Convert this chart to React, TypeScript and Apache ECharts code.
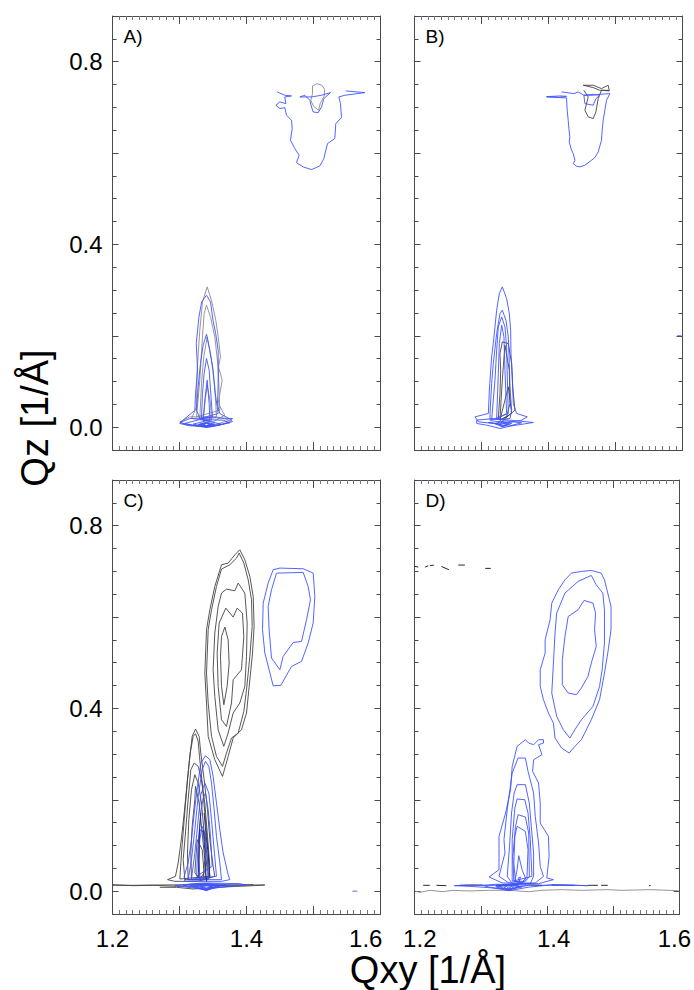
import React, { useEffect, useRef } from "react";
import * as echarts from "echarts";

type Contour = number[][];

const xTickLabelsLeft = [1.2, 1.4, 1.578];
const xTickLabelsRight = [1.208, 1.41, 1.592];
const yTickLabels = [0, 0.4, 0.8];
const yMajorTicks = [0, 0.2, 0.4, 0.6, 0.8];

const panelABlue: Contour[] = [
  [[1.4458,.7338],[1.4572,.7265],[1.4672,.7250],[1.4572,.7228],[1.4587,.7082],[1.4498,.7119],[1.4438,.7046],[1.4498,.6973],[1.4572,.6995],[1.4597,.6827],[1.4672,.6718],[1.4682,.6535],[1.4657,.6280],[1.4721,.6098],[1.4786,.5952],[1.4746,.5791],[1.4846,.5697],[1.4970,.5638],[1.5095,.5718],[1.5154,.5879],[1.5209,.6207],[1.5318,.6317],[1.5333,.6645],[1.5418,.6776],[1.5403,.7082],[1.5378,.7228],[1.5468,.7265],[1.5766,.7323],[1.5483,.7360]],
  [[1.4796,.7228],[1.4871,.7265],[1.4945,.7155],[1.4970,.7009],[1.4995,.6900],[1.5070,.6885],[1.5120,.7009],[1.5154,.7192],[1.5253,.7323],[1.5120,.7265],[1.4970,.7228],[1.4796,.7228]],
  [[1.323,.037],[1.3239,.073],[1.327,.125],[1.325,.183],[1.329,.241],[1.333,.274],[1.3403,.2888],[1.3463,.274],[1.350,.234],[1.354,.205],[1.3577,.168],[1.3577,.095],[1.3567,.051],[1.360,.030],[1.375,.018],[1.3791,.012],[1.36,.005],[1.34,.002],[1.315,.003],[1.3005,.008],[1.305,.015],[1.323,.037]],
  [[1.3403,.2035],[1.3453,.1685],[1.3502,.1247],[1.3527,.0809],[1.3577,.0299],[1.3303,.0189],[1.3254,.0371],[1.3278,.0882],[1.3313,.1393],[1.3353,.1794],[1.3403,.2035]],
  [[1.3403,.1502],[1.3443,.1247],[1.3463,.0809],[1.3492,.0226],[1.3328,.0189],[1.3343,.0736],[1.3368,.1174],[1.3403,.1502]],
  [[1.3413,.1028],[1.3443,.0517],[1.3453,.0153],[1.3353,.0153],[1.3378,.0590],[1.3413,.1028]],
  [[1.3005,.0098],[1.3154,.0189],[1.3552,.0204],[1.3791,.0189],[1.3751,.0116],[1.3602,.0044],[1.3403,-.0007],[1.3204,.0036],[1.3005,.0098]],
  [[1.3079,.0080],[1.3303,.0167],[1.3652,.0153],[1.3751,.0095],[1.3453,.0007],[1.3204,.0044],[1.3079,.0080]],
  [[1.3204,.0066],[1.3403,.0138],[1.3627,.0066],[1.3403,.0007],[1.3204,.0066]],
  [[1.3303,.0066],[1.3403,.0109],[1.3527,.0066],[1.3403,.0022],[1.3303,.0066]],
  [[1.3353,.0058],[1.3403,.0087],[1.3453,.0058],[1.3403,.0029],[1.3353,.0058]],
  [[1.3278,.0058],[1.3403,.0095],[1.3502,.0058],[1.3403,.0015],[1.3278,.0058]],
  [[1.3328,.0062],[1.3403,.0080],[1.3477,.0062],[1.3403,.0036],[1.3328,.0062]],
];
const panelAGrey: Contour[] = [
  [[1.4985,.7469],[1.5050,.7520],[1.5125,.7484],[1.5165,.7396],[1.5160,.7250],[1.5100,.7082],[1.5075,.6936],[1.5000,.7025],[1.4960,.7155],[1.4985,.7301],[1.4985,.7469]],
  [[1.3413,.3071],[1.3477,.2779],[1.3542,.2341],[1.3577,.1976],[1.3612,.1539],[1.3582,.1320],[1.3637,.1028],[1.3577,.0517],[1.3676,.0262],[1.3502,.0116],[1.3179,.0189],[1.3254,.0444],[1.3263,.1247],[1.3303,.2122],[1.3343,.2742],[1.3413,.3071]],
  [[1.3403,.2669],[1.3463,.2414],[1.3527,.1976],[1.3577,.1320],[1.3602,.0371],[1.3254,.0226],[1.3303,.1028],[1.3343,.1976],[1.3368,.2487],[1.3403,.2669]],
  [[1.3413,.1976],[1.3477,.1466],[1.3527,.0882],[1.3552,.0226],[1.3303,.0189],[1.3328,.0955],[1.3363,.1539],[1.3413,.1976]],
  [[1.3413,.0919],[1.3463,.0517],[1.3477,.0153],[1.3353,.0153],[1.3378,.0517],[1.3413,.0919]],
  [[1.3005,.0116],[1.3154,.0226],[1.3552,.0226],[1.3751,.0153],[1.3403,.0000],[1.3079,.0058],[1.3005,.0116]],
];

const panelBBlue: Contour[] = [
  [[1.3971,.7228],[1.4269,.7207],[1.4279,.6937],[1.4294,.6718],[1.4304,.6536],[1.4319,.6353],[1.4309,.6244],[1.4344,.6062],[1.4369,.5988],[1.4394,.5843],[1.4369,.5770],[1.4419,.5711],[1.4468,.5697],[1.4543,.5733],[1.4642,.5843],[1.4692,.5901],[1.4742,.6025],[1.4791,.6280],[1.4801,.6499],[1.4816,.6718],[1.4841,.6937],[1.4866,.7156],[1.4916,.7301],[1.4767,.7287],[1.4667,.7265],[1.4528,.7265],[1.4443,.7338],[1.4379,.7301],[1.4195,.7338]],
  [[1.3971,.7235],[1.4170,.7250],[1.4269,.7243],[1.4170,.7221],[1.3971,.7235]],
  [[1.4528,.7265],[1.4543,.7083],[1.4667,.7046],[1.4707,.7192],[1.4767,.7265],[1.4667,.7287],[1.4528,.7265]],
  [[1.3311,.3071],[1.3375,.2815],[1.3415,.2487],[1.3435,.2122],[1.3440,.1612],[1.3460,.1101],[1.3475,.0517],[1.3524,.0299],[1.3683,.0226],[1.3599,.0153],[1.3276,.0066],[1.2953,.0116],[1.2903,.0226],[1.3102,.0299],[1.3117,.0809],[1.3151,.1539],[1.3176,.1830],[1.3226,.2560],[1.3266,.2924],[1.3311,.3071]],
  [[1.3311,.2560],[1.3365,.2341],[1.3400,.1976],[1.3415,.1393],[1.3425,.0882],[1.3450,.0371],[1.3425,.0189],[1.3127,.0153],[1.3127,.0299],[1.3151,.0955],[1.3176,.1393],[1.3226,.2049],[1.3276,.2487],[1.3311,.2560]],
  [[1.3301,.2414],[1.3350,.2195],[1.3375,.1757],[1.3385,.1101],[1.3400,.0299],[1.3151,.0153],[1.3201,.1028],[1.3226,.1685],[1.3251,.2195],[1.3301,.2414]],
  [[1.3301,.2232],[1.3335,.1976],[1.3350,.1247],[1.3375,.0299],[1.3226,.0189],[1.3251,.1174],[1.3266,.1830],[1.3301,.2232]],
  [[1.2928,.0153],[1.3176,.0189],[1.3773,.0102],[1.3425,.0022],[1.3276,-.0029],[1.3077,.0044],[1.2928,.0080],[1.2928,.0153]],
  [[1.3102,.0102],[1.3350,.0138],[1.3599,.0095],[1.3400,.0022],[1.3102,.0102]],
  [[1.3201,.0080],[1.3311,.0124],[1.3450,.0080],[1.3311,.0007],[1.3201,.0080]],
  [[1.3276,.0066],[1.3311,.0102],[1.3375,.0066],[1.3311,.0029],[1.3276,.0066]],
  [[1.3226,.0073],[1.3311,.0109],[1.3415,.0073],[1.3311,.0015],[1.3226,.0073]],
];
const panelBGrey: Contour[] = [
  [[1.4518,.7484],[1.4667,.7484],[1.4791,.7411],[1.4891,.7484],[1.4906,.7374],[1.4767,.7374],[1.4667,.7433],[1.4518,.7484]],
  [[1.4528,.7374],[1.4593,.7228],[1.4543,.6937],[1.4593,.6791],[1.4667,.6754],[1.4707,.6900],[1.4742,.7192],[1.4791,.7374],[1.4916,.7360]],
  [[1.3311,.1867],[1.3400,.1830],[1.3450,.1393],[1.3465,.0882],[1.3499,.0371],[1.3325,.0153],[1.3251,.0189],[1.3276,.0736],[1.3286,.1247],[1.3276,.1612],[1.3311,.1867]],
  [[1.3350,.1794],[1.3415,.1247],[1.3425,.0517],[1.3375,.0226],[1.3276,.0153],[1.3301,.0809],[1.3325,.1320],[1.3350,.1794]],
  [[1.3400,.0882],[1.3450,.0299],[1.3276,.0153],[1.3350,.0591],[1.3400,.0882]],
];
const panelBMark: Contour[] = [[[1.5920,.2000],[1.5985,.2000]]];

const panelCBlack: Contour[] = [
  [[1.3900,.7473],[1.3975,.7254],[1.4050,.6889],[1.4100,.6451],[1.4114,.5795],[1.4090,.5211],[1.4040,.4482],[1.4000,.3899],[1.3925,.3534],[1.3801,.3351],[1.3726,.2950],[1.3642,.2512],[1.3527,.2877],[1.3428,.3388],[1.3403,.4117],[1.3378,.4773],[1.3403,.5722],[1.3453,.6159],[1.3527,.6670],[1.3627,.7145],[1.3726,.7181],[1.3826,.7363],[1.3900,.7473]],
  [[1.3890,.7400],[1.3960,.7181],[1.4025,.6816],[1.4075,.6378],[1.4085,.5795],[1.4050,.5138],[1.4000,.4408],[1.3960,.3935],[1.3876,.3461],[1.3776,.3351],[1.3701,.3023],[1.3642,.2731],[1.3552,.2950],[1.3478,.3388],[1.3428,.4117],[1.3403,.4773],[1.3428,.5722],[1.3478,.6159],[1.3552,.6670],[1.3627,.7050],[1.3751,.7145],[1.3851,.7290],[1.3890,.7400]],
  [[1.3701,.6612],[1.3826,.6575],[1.3876,.6743],[1.3975,.6524],[1.4010,.5868],[1.4000,.5138],[1.3975,.4482],[1.3900,.4117],[1.3801,.3899],[1.3726,.3461],[1.3661,.3170],[1.3577,.3534],[1.3527,.4263],[1.3502,.4846],[1.3527,.5649],[1.3577,.6232],[1.3627,.6524],[1.3701,.6612]],
  [[1.3691,.6195],[1.3801,.5999],[1.3861,.6195],[1.3940,.6086],[1.3960,.5576],[1.3925,.4846],[1.3801,.4627],[1.3776,.4117],[1.3701,.3607],[1.3627,.3753],[1.3577,.4482],[1.3562,.5211],[1.3592,.5868],[1.3691,.6195]],
  [[1.3677,.5780],[1.3726,.5503],[1.3741,.4992],[1.3711,.4482],[1.3662,.4081],[1.3627,.4482],[1.3612,.5138],[1.3627,.5576],[1.3677,.5780]],
  [[1.3239,.3549],[1.3293,.3388],[1.3318,.3023],[1.3368,.2440],[1.3418,.1784],[1.3453,.1127],[1.3502,.0544],[1.3527,.0325],[1.3279,.0215],[1.2930,.0215],[1.2821,.0252],[1.2940,.0325],[1.2980,.0617],[1.3030,.1164],[1.3070,.1711],[1.3139,.2732],[1.3189,.3388],[1.3239,.3549]],
  [[1.3239,.3447],[1.3279,.3279],[1.3298,.2951],[1.3338,.2367],[1.3378,.1711],[1.3418,.1054],[1.3453,.0325],[1.3005,.0266],[1.3030,.0835],[1.3070,.1565],[1.3119,.2440],[1.3159,.3023],[1.3204,.3388],[1.3239,.3447]],
  [[1.3219,.2805],[1.3279,.2732],[1.3328,.2440],[1.3378,.1929],[1.3418,.1200],[1.3453,.0544],[1.3428,.0252],[1.3080,.0252],[1.3055,.0689],[1.3089,.1273],[1.3129,.2002],[1.3169,.2659],[1.3219,.2805]],
  [[1.3229,.2549],[1.3279,.2367],[1.3328,.1929],[1.3368,.1273],[1.3403,.0617],[1.3378,.0252],[1.3129,.0252],[1.3119,.0835],[1.3139,.1565],[1.3179,.2221],[1.3229,.2549]],
  [[1.3239,.2294],[1.3293,.1929],[1.3338,.1273],[1.3378,.0689],[1.3353,.0252],[1.3179,.0252],[1.3169,.0835],[1.3189,.1419],[1.3229,.2002],[1.3239,.2294]],
  [[1.3303,.1346],[1.3378,.1273],[1.3418,.0689],[1.3428,.0288],[1.3303,.0288],[1.3289,.0689],[1.3303,.1346]],
  [[1.3264,.1127],[1.3338,.0909],[1.3368,.0400],[1.3303,.0266],[1.3229,.0400],[1.3264,.1127]],
  [[1.2000,.0128],[1.2308,.0128],[1.2706,.0135],[1.3303,.0142],[1.3900,.0135],[1.4274,.0135],[1.4100,.0120],[1.3552,.0084],[1.3204,.0047],[1.2955,.0084],[1.2706,.0084]],
  [[1.2000,.0142],[1.2308,.0120],[1.2600,.0128],[1.2955,.0106],[1.3500,.0120],[1.4100,.0142]],
];
const panelCBlue: Contour[] = [
  [[1.4398,.7035],[1.4498,.7072],[1.4846,.7057],[1.4995,.6962],[1.5020,.6451],[1.4995,.5868],[1.4920,.5430],[1.4821,.5029],[1.4672,.4920],[1.4512,.4504],[1.4398,.4497],[1.4274,.5211],[1.4239,.5722],[1.4249,.6305],[1.4323,.6743],[1.4398,.7035]],
  [[1.4448,.6962],[1.4846,.6977],[1.4920,.6670],[1.4955,.6379],[1.4896,.5941],[1.4821,.5466],[1.4697,.5444],[1.4547,.5138],[1.4498,.4847],[1.4373,.5102],[1.4338,.5722],[1.4323,.6232],[1.4373,.6597],[1.4448,.6962]],
  [[1.3388,.2965],[1.3453,.2878],[1.3502,.2513],[1.3552,.1929],[1.3602,.1346],[1.3652,.0835],[1.3726,.0361],[1.3751,.0252],[1.3627,.0215],[1.3080,.0215],[1.3070,.0325],[1.3129,.0617],[1.3179,.1127],[1.3219,.1711],[1.3269,.2294],[1.3318,.2805],[1.3388,.2965]],
  [[1.3388,.2841],[1.3438,.2732],[1.3478,.2367],[1.3517,.1784],[1.3552,.1200],[1.3602,.0617],[1.3627,.0252],[1.3129,.0252],[1.3179,.0689],[1.3229,.1346],[1.3279,.2075],[1.3338,.2659],[1.3388,.2841]],
  [[1.3378,.2367],[1.3438,.2148],[1.3478,.1565],[1.3517,.0909],[1.3552,.0325],[1.3179,.0266],[1.3229,.0835],[1.3279,.1565],[1.3318,.2112],[1.3378,.2367]],
  [[1.3388,.2148],[1.3428,.1784],[1.3463,.1200],[1.3487,.0544],[1.3254,.0325],[1.3279,.1054],[1.3318,.1711],[1.3353,.2039],[1.3388,.2148]],
  [[1.3338,.1419],[1.3378,.1273],[1.3418,.0689],[1.3428,.0288],[1.3303,.0288],[1.3289,.0689],[1.3303,.1127],[1.3338,.1419]],
  [[1.2930,.0120],[1.3204,.0164],[1.3403,.0179],[1.3900,.0164],[1.4000,.0135],[1.3601,.0084],[1.3403,.0033],[1.3204,.0070],[1.2930,.0120]],
  [[1.3055,.0128],[1.3303,.0172],[1.3602,.0157],[1.3800,.0120],[1.3502,.0070],[1.3403,.0011],[1.3254,.0070],[1.3055,.0128]],
  [[1.3154,.0120],[1.3403,.0157],[1.3652,.0128],[1.3453,.0062],[1.3403,.0018],[1.3279,.0070],[1.3154,.0120]],
  [[1.3254,.0106],[1.3403,.0143],[1.3552,.0106],[1.3403,.0040],[1.3254,.0106]],
  [[1.3328,.0098],[1.3403,.0120],[1.3478,.0098],[1.3403,.0062],[1.3328,.0098]],
  [[1.3204,.0113],[1.3403,.0150],[1.3602,.0113],[1.3403,.0026],[1.3204,.0113]],
  [[1.3303,.0102],[1.3403,.0135],[1.3502,.0102],[1.3403,.0051],[1.3303,.0102]],
  [[1.5582,.0000],[1.5652,.0000]],
];
const panelCCore: Contour[] = [
  [[1.3318,.1711],[1.3293,.1200],[1.3289,.0689],[1.3279,.0288]],
  [[1.3368,.1711],[1.3393,.1273],[1.3428,.0835],[1.3453,.0288]],
  [[1.3353,.1346],[1.3378,.0909],[1.3393,.0400],[1.3403,.0215]],
];

const panelDBlue: Contour[] = [
  [[1.4667,.7021],[1.4816,.6962],[1.4866,.6816],[1.4916,.6524],[1.4965,.6232],[1.4965,.5722],[1.4916,.5211],[1.4866,.4773],[1.4792,.4190],[1.4667,.3752],[1.4518,.3315],[1.4419,.3169],[1.4334,.3023],[1.4220,.3132],[1.4120,.3351],[1.4096,.3680],[1.4021,.3899],[1.3946,.4190],[1.3897,.4482],[1.3897,.4847],[1.3971,.5211],[1.3971,.5503],[1.4046,.5941],[1.4071,.6305],[1.4170,.6597],[1.4270,.6816],[1.4369,.6962],[1.4518,.6998],[1.4667,.7021]],
  [[1.4667,.6911],[1.4742,.6707],[1.4841,.6524],[1.4866,.6159],[1.4866,.5430],[1.4831,.4847],[1.4792,.4482],[1.4692,.4044],[1.4518,.3752],[1.4419,.3534],[1.4344,.3351],[1.4245,.3534],[1.4145,.3826],[1.4071,.4337],[1.4096,.4992],[1.4120,.5649],[1.4145,.6087],[1.4270,.6524],[1.4468,.6780],[1.4667,.6911]],
  [[1.4558,.6364],[1.4692,.6305],[1.4732,.6087],[1.4717,.5722],[1.4742,.5357],[1.4667,.4992],[1.4617,.4701],[1.4518,.4446],[1.4443,.4300],[1.4319,.4337],[1.4230,.4518],[1.4230,.5065],[1.4270,.5576],[1.4319,.6013],[1.4468,.6159],[1.4558,.6364]],
  [[1.3673,.3315],[1.3723,.3242],[1.3797,.3206],[1.3872,.3315],[1.3946,.3315],[1.3946,.3242],[1.3872,.3206],[1.3922,.2987],[1.3797,.2877],[1.3782,.2622],[1.3872,.2367],[1.3897,.1929],[1.3897,.1491],[1.4021,.1200],[1.4031,.0762],[1.3996,.0288],[1.4096,.0252],[1.3872,.0164],[1.3325,.0179],[1.3126,.0310],[1.3275,.0470],[1.3275,.1200],[1.3375,.1710],[1.3449,.2221],[1.3474,.2732],[1.3548,.3169],[1.3673,.3315]],
  [[1.3563,.2914],[1.3673,.2914],[1.3713,.2622],[1.3797,.2148],[1.3822,.1637],[1.3872,.1054],[1.3897,.0543],[1.3946,.0325],[1.3822,.0179],[1.3424,.0179],[1.3275,.0325],[1.3365,.0835],[1.3350,.1127],[1.3399,.1783],[1.3474,.2586],[1.3563,.2914]],
  [[1.3548,.2331],[1.3673,.2331],[1.3732,.1929],[1.3762,.1419],[1.3797,.0835],[1.3797,.0325],[1.3747,.0164],[1.3474,.0164],[1.3399,.0325],[1.3434,.0981],[1.3464,.1710],[1.3504,.2148],[1.3548,.2331]],
  [[1.3548,.2017],[1.3663,.2002],[1.3713,.1710],[1.3747,.1127],[1.3772,.0325],[1.3474,.0215],[1.3474,.1127],[1.3514,.1820],[1.3548,.2017]],
  [[1.3563,.1674],[1.3673,.1623],[1.3723,.1273],[1.3733,.0325],[1.3673,.0215],[1.3499,.0215],[1.3484,.0762],[1.3524,.1419],[1.3563,.1674]],
  [[1.3548,.1419],[1.3673,.1309],[1.3713,.0908],[1.3698,.0325],[1.3623,.0193],[1.3524,.0215],[1.3499,.0616],[1.3514,.1200],[1.3548,.1419]],
  [[1.3573,.0777],[1.3623,.0470],[1.3683,.0252],[1.3623,.0179],[1.3514,.0215],[1.3548,.0470],[1.3573,.0777]],
  [[1.3563,.0288],[1.3598,.0310],[1.3583,.0215],[1.3563,.0288]],
  [[1.3027,.0128],[1.3225,.0150],[1.3573,.0142],[1.3921,.0128],[1.4419,.0128],[1.4618,.0120],[1.4071,.0142],[1.3722,.0087],[1.3424,.0011],[1.3126,.0087],[1.3027,.0128]],
  [[1.2600,.0120],[1.2828,.0135],[1.3126,.0120],[1.3424,.0150],[1.3722,.0128],[1.3424,.0047],[1.2828,.0106],[1.2600,.0120]],
  [[1.3275,.0106],[1.3424,.0142],[1.3573,.0106],[1.3424,.0018],[1.3275,.0106]],
  [[1.3349,.0087],[1.3424,.0120],[1.3498,.0087],[1.3424,.0033],[1.3349,.0087]],
  [[1.3399,.0073],[1.3424,.0091],[1.3454,.0073],[1.3424,.0047],[1.3399,.0073]],
  [[1.3225,.0095],[1.3424,.0128],[1.3623,.0095],[1.3424,.0025],[1.3225,.0095]],
];
const panelDBlack: Contour[] = [
  [[1.2007,.7108],[1.2057,.7094]],
  [[1.2157,.7094],[1.2207,.7123]],
  [[1.2232,.7123],[1.2292,.7138]],
  [[1.2405,.7108],[1.2520,.7035]],
  [[1.2660,.7138],[1.2760,.7138]],
  [[1.3067,.7065],[1.3151,.7065]],
  [[1.2132,.0128],[1.2231,.0128]],
  [[1.2331,.0128],[1.2480,.0120]],
  [[1.2679,.0128],[1.3027,.0135]],
  [[1.3225,.0128],[1.3573,.0135]],
  [[1.3722,.0135],[1.3921,.0128]],
  [[1.4071,.0135],[1.4419,.0128]],
  [[1.4618,.0128],[1.4767,.0128]],
  [[1.4816,.0128],[1.4916,.0128]],
  [[1.5538,.0120],[1.5562,.0120]],
];
const panelDGrey: Contour[] = [
  [[1.2007,.0000],[1.2082,-.0026],[1.2231,.0018],[1.2430,-.0011],[1.2580,.0018],[1.2828,.0004],[1.3126,.0018],[1.3424,.0018],[1.3722,-.0011],[1.3921,.0018],[1.4220,.0033],[1.4518,.0018],[1.4916,.0033],[1.5115,.0018],[1.5562,.0033],[1.5985,.0010]],
];

const xTicks = { min: 1.2, max: 1.6, interval: 0.1, minorSplit: 10 };
const yTicks = { min: -0.05, max: 0.9, interval: 0.05 };

const BLUE = "#3f54ff";
const GREY = "#8a8a8a";
const DARK = "#444444";
const NAVY = "#12208a";
const AXIS = "#4a4a4a";
const FONT = "Liberation Sans, Arial, sans-serif";

const panels = [
  { name: "A)", left: 112.5, top: 16, xLabels: null, yLabels: true, layers: [[panelAGrey, GREY], [panelABlue, BLUE]] },
  { name: "B)", left: 414.5, top: 16, xLabels: null, yLabels: false, layers: [[panelBGrey, DARK], [panelBBlue, BLUE], [panelBMark, BLUE]] },
  { name: "C)", left: 112.5, top: 480, xLabels: xTickLabelsLeft, yLabels: true, layers: [[panelCBlack, DARK], [panelCBlue, BLUE], [panelCCore, NAVY]] },
  { name: "D)", left: 414.5, top: 480, xLabels: xTickLabelsRight, yLabels: false, layers: [[panelDGrey, GREY], [panelDBlack, "#111"], [panelDBlue, BLUE]] },
] as const;

function buildOption() {
  const grid: any[] = [];
  const xAxis: any[] = [];
  const yAxis: any[] = [];
  const series: any[] = [];
  const graphic: any[] = [];

  panels.forEach((p, g) => {
    grid.push({ left: p.left, top: p.top, width: 268, height: 434, show: false });

    const xBase = {
      type: "value", gridIndex: g, min: xTicks.min, max: xTicks.max, interval: xTicks.interval,
      splitLine: { show: false },
      axisLine: { show: true, onZero: false, lineStyle: { color: AXIS, width: 1 } },
      axisTick: { show: true, inside: true, length: 8, lineStyle: { color: AXIS, width: 1 } },
      minorTick: { show: true, splitNumber: xTicks.minorSplit, length: 4, lineStyle: { color: "#777", width: 1 } },
    };
    const xMain = xAxis.length;
    xAxis.push({
      ...xBase, position: "bottom",
      axisLabel: p.xLabels
        ? { show: true, customValues: [...p.xLabels], formatter: (v: number) => v.toFixed(1), fontSize: 24, fontFamily: FONT, color: "#000", margin: 12, hideOverlap: false }
        : { show: false },
    });
    xAxis.push({ ...xBase, position: "top", axisLabel: { show: false } });

    const yShort = {
      type: "value", gridIndex: g, min: yTicks.min, max: yTicks.max, interval: yTicks.interval,
      splitLine: { show: false },
      axisLine: { show: true, onZero: false, lineStyle: { color: AXIS, width: 1 } },
      axisTick: { show: true, inside: true, length: 4, lineStyle: { color: AXIS, width: 1 } },
      minorTick: { show: false },
    };
    const yLong = {
      type: "value", gridIndex: g, min: yTicks.min, max: yTicks.max, interval: yTicks.interval,
      splitLine: { show: false },
      axisLine: { show: false },
      axisLabel: { show: false },
      axisTick: { show: true, inside: true, length: 6, customValues: yMajorTicks, lineStyle: { color: AXIS, width: 1 } },
    };
    const yMain = yAxis.length;
    yAxis.push({
      ...yShort, position: "left",
      axisLabel: p.yLabels
        ? { show: true, customValues: yTickLabels, formatter: (v: number) => v.toFixed(1), fontSize: 24, fontFamily: FONT, color: "#000", margin: 10 }
        : { show: false },
    });
    yAxis.push({ ...yShort, position: "right", axisLabel: { show: false } });
    yAxis.push({ ...yLong, position: "left" });
    yAxis.push({ ...yLong, position: "right" });

    p.layers.forEach(([contours, color]) => {
      (contours as Contour[]).forEach((c) => {
        series.push({
          type: "line", xAxisIndex: xMain, yAxisIndex: yMain, data: c, showSymbol: false, symbol: "none",
          silent: true, clip: true, lineStyle: { color, width: 0.9 },
        });
      });
    });

    graphic.push({
      type: "text", x: p.left + 11, y: p.top + 20,
      style: { text: p.name, font: `19px ${FONT}`, fill: "#000", textAlign: "left", textVerticalAlign: "middle" },
    });
  });

  graphic.push({
    type: "text", x: 35, y: 418, rotation: Math.PI / 2,
    style: { text: "Qz [1/Å]", font: `38px ${FONT}`, fill: "#000", textAlign: "center", textVerticalAlign: "middle" },
  });
  graphic.push({
    type: "text", x: 428, y: 970,
    style: { text: "Qxy [1/Å]", font: `38px ${FONT}`, fill: "#000", textAlign: "center", textVerticalAlign: "middle" },
  });

  return { animation: false, backgroundColor: "#fff", grid, xAxis, yAxis, series, graphic };
}

export default function App() {
  const ref = useRef<HTMLDivElement>(null);
  useEffect(() => {
    const chart = echarts.init(ref.current!, undefined, { renderer: "svg" });
    chart.setOption(buildOption() as any);
    return () => chart.dispose();
  }, []);
  return <div ref={ref} style={{ position: "absolute", left: 0, top: 0, width: 694, height: 990 }} />;
}
